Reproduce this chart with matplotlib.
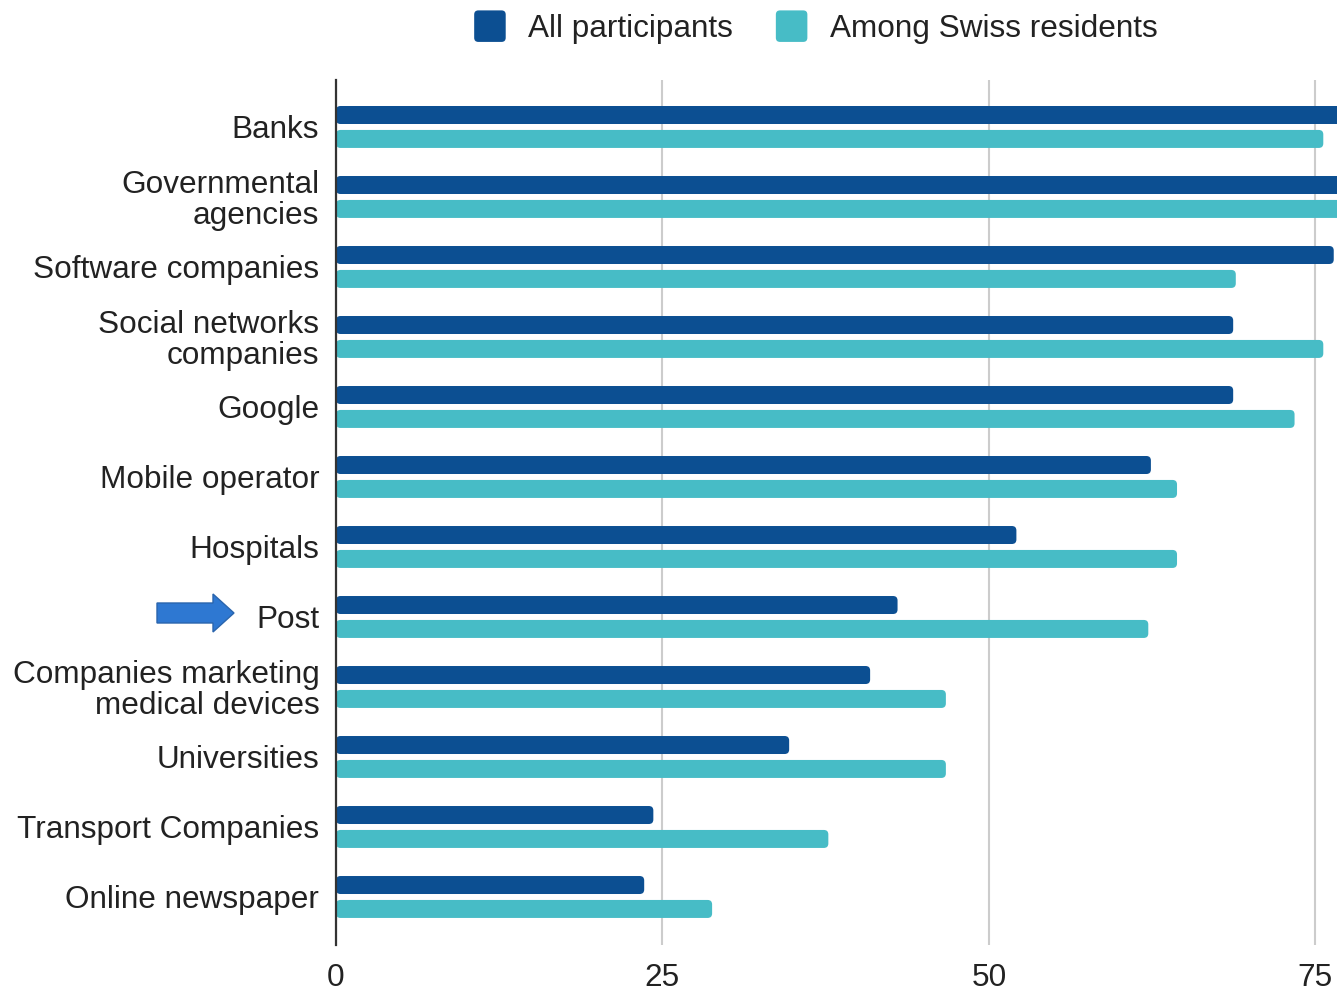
import matplotlib
matplotlib.use("Agg")
import matplotlib.pyplot as plt
from matplotlib.patches import FancyBboxPatch, Polygon, Patch
from matplotlib.legend_handler import HandlerPatch
import numpy as np

plt.rcParams['font.family'] = ['Liberation Sans', 'DejaVu Sans']

categories = [
    "Banks",
    "Governmental\nagencies",
    "Software companies",
    "Social networks\ncompanies",
    "Google",
    "Mobile operator",
    "Hospitals",
    "Post",
    "Companies marketing\nmedical devices",
    "Universities",
    "Transport Companies",
    "Online newspaper",
]
all_participants = [80.0, 79.0, 76.4, 68.7, 68.7, 62.4, 52.1, 43.0, 40.9, 34.7, 24.3, 23.6]
swiss_residents = [75.6, 78.0, 68.9, 75.6, 73.4, 64.4, 64.4, 62.2, 46.7, 46.7, 37.7, 28.8]
series_names = ["All participants", "Among Swiss residents"]
x_ticks = [0, 25, 50, 75]

DARK = "#0c4f92"
LIGHT = "#47bcc6"
GRID = "#cccccc"
TEXT = "#222222"
FS = 22.7

W, H = 1337, 991
fig = plt.figure(figsize=(W / 100, H / 100), dpi=100)
ax = fig.add_axes([336 / W, 1 - 945 / H, 1 - 336 / W, (945 - 80) / H])

x_max = 76.65
y_top, y_bot = -0.671, 11.686
ax.set_xlim(0, x_max)
ax.set_ylim(y_bot, y_top)

bar_h = 0.257
offset = 0.171
# rounding radius in x data units, y scaled to keep corners circular on screen
px_per_x = (W - 336) / x_max
px_per_y = 865 / (y_bot - y_top)
radius_x = 4.5 / px_per_x
aspect = px_per_x / px_per_y

pos = np.arange(len(categories))
for values, shift, color in [(all_participants, -offset, DARK), (swiss_residents, offset, LIGHT)]:
    for yc, v in zip(pos, values):
        patch = FancyBboxPatch(
            (0, yc + shift - bar_h / 2), v, bar_h,
            boxstyle=f"round,pad=0,rounding_size={radius_x}",
            mutation_aspect=aspect,
            facecolor=color, edgecolor="none", zorder=3,
        )
        ax.add_patch(patch)

ax.set_xticks(x_ticks)
ax.set_xticklabels([str(t) for t in x_ticks])
ax.set_yticks(pos)
ax.set_yticklabels(categories, linespacing=1.04)
ax.tick_params(axis="both", length=0, labelsize=FS, labelcolor=TEXT)
ax.tick_params(axis="y", pad=12)
ax.tick_params(axis="x", pad=13)

ax.grid(axis="x", color=GRID, linewidth=1.5, zorder=0)
ax.set_axisbelow(True)
for s in ["top", "right", "bottom"]:
    ax.spines[s].set_visible(False)
ax.spines["left"].set_color("#333333")
ax.spines["left"].set_linewidth(1.6)
ax.spines["left"].set_zorder(4)


def rounded_square(legend, orig_handle, xdescent, ydescent, width, height, fontsize):
    side = max(width, height)
    return FancyBboxPatch((-xdescent, -ydescent + (height - side) / 2), width, side,
                          boxstyle="round,pad=0,rounding_size=3")


handles = [
    Patch(facecolor=DARK, edgecolor="none", label=series_names[0]),
    Patch(facecolor=LIGHT, edgecolor="none", label=series_names[1]),
]
fig.legend(
    handles=handles, loc="center", bbox_to_anchor=(816 / W, 1 - 28 / H),
    ncol=2, frameon=False, fontsize=FS, handlelength=1.0, handleheight=1.0,
    handletextpad=0.72, columnspacing=1.35, labelcolor=TEXT,
    handler_map={Patch: HandlerPatch(patch_func=rounded_square)},
)

# pointer arrow next to the "Post" label
def px(x, y):
    return (x / W, 1 - y / H)

cy = 613
arrow_pts = [
    px(157, cy - 10), px(213, cy - 10), px(213, cy - 19), px(234, cy),
    px(213, cy + 19), px(213, cy + 10), px(157, cy + 10),
]
fig.patches.append(Polygon(arrow_pts, closed=True, transform=fig.transFigure,
                           facecolor="#2e78d2", edgecolor="#2a65ad", linewidth=1.0))

fig.savefig("out.png", dpi=100)
